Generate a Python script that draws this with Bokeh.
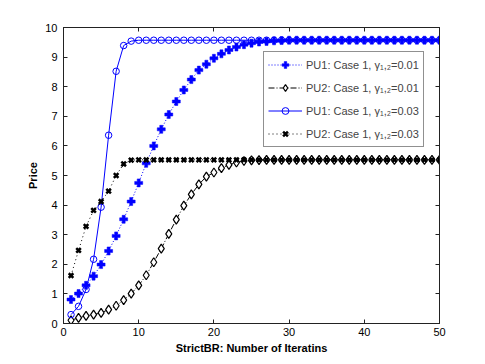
from bokeh.plotting import figure
from bokeh.models import LinearAxis, Legend, LegendItem, FixedTicker, Range1d
from bokeh.embed import file_html
from bokeh.resources import INLINE

iters = list(range(1, 51))

pu1_g001 = [0.81, 1.01, 1.29, 1.60, 1.99, 2.45, 2.96, 3.52, 4.12, 4.75,
            5.41, 6.00, 6.56, 7.06, 7.50, 7.89, 8.24, 8.56, 8.76, 8.96,
            9.11, 9.24, 9.34, 9.42, 9.47, 9.51, 9.53, 9.55, 9.56, 9.57,
            9.57, 9.57, 9.57, 9.57, 9.57, 9.57, 9.57, 9.57, 9.57, 9.57,
            9.57, 9.57, 9.57, 9.57, 9.57, 9.57, 9.57, 9.57, 9.57, 9.57]

pu2_g001 = [0.11, 0.19, 0.26, 0.30, 0.36, 0.47, 0.60, 0.79, 1.01, 1.29,
            1.63, 2.07, 2.53, 3.03, 3.51, 3.98, 4.36, 4.70, 4.96, 5.10,
            5.25, 5.36, 5.44, 5.49, 5.51, 5.52, 5.53, 5.53, 5.53, 5.53,
            5.53, 5.53, 5.53, 5.53, 5.53, 5.53, 5.53, 5.53, 5.53, 5.53,
            5.53, 5.53, 5.53, 5.53, 5.53, 5.53, 5.53, 5.53, 5.53, 5.53]

pu1_g003 = [0.30, 0.58, 1.15, 2.17, 3.93, 6.36, 8.52, 9.39, 9.54, 9.57,
            9.57, 9.57, 9.57, 9.57, 9.57, 9.57, 9.57, 9.57, 9.57, 9.57,
            9.57, 9.57, 9.57, 9.57, 9.57, 9.57, 9.57, 9.57, 9.57, 9.57,
            9.57, 9.57, 9.57, 9.57, 9.57, 9.57, 9.57, 9.57, 9.57, 9.57,
            9.57, 9.57, 9.57, 9.57, 9.57, 9.57, 9.57, 9.57, 9.57, 9.57]

pu2_g003 = [1.62, 2.47, 3.28, 3.82, 4.12, 4.47, 5.00, 5.39, 5.52, 5.53,
            5.53, 5.53, 5.53, 5.53, 5.53, 5.53, 5.53, 5.53, 5.53, 5.53,
            5.53, 5.53, 5.53, 5.53, 5.53, 5.53, 5.53, 5.53, 5.53, 5.53,
            5.53, 5.53, 5.53, 5.53, 5.53, 5.53, 5.53, 5.53, 5.53, 5.53,
            5.53, 5.53, 5.53, 5.53, 5.53, 5.53, 5.53, 5.53, 5.53, 5.53]

x_ticks = [0, 10, 20, 30, 40, 50]
y_ticks = [0, 1, 2, 3, 4, 5, 6, 7, 8, 9, 10]
labels = ["PU1: Case 1, γ₁,₂=0.01", "PU2: Case 1, γ₁,₂=0.01",
          "PU1: Case 1, γ₁,₂=0.03", "PU2: Case 1, γ₁,₂=0.03"]

FONT = "Liberation Sans"
BLUE = "#0000ff"
DARK = "#222222"

p = figure(frame_width=376, frame_height=296, output_backend="svg",
           toolbar_location=None,
           x_range=Range1d(0, 50), y_range=Range1d(0, 10),
           min_border_left=63, min_border_right=30, min_border_top=27,
           min_border_bottom=38)
p.grid.visible = False
p.outline_line_color = DARK
p.outline_line_width = 1
p.background_fill_color = "white"
p.border_fill_color = "white"

# series
l1 = p.line(iters, pu1_g001, color=BLUE, line_width=1, line_dash="1 2")
m1 = p.scatter(iters, pu1_g001, marker="plus", size=8, fill_color=BLUE,
               line_color=BLUE, line_width=0.5)
l2 = p.line(iters, pu2_g001, color="black", line_width=1, line_dash="6 2 1 2")
m2 = p.scatter(iters, pu2_g001, marker="diamond", size=9, fill_color="white",
               line_color="black", line_width=1.2)
l3 = p.line(iters, pu1_g003, color=BLUE, line_width=1)
m3 = p.scatter(iters, pu1_g003, marker="circle", size=6.5, fill_color=None,
               line_color=BLUE, line_width=1)
l4 = p.line(iters, pu2_g003, color="black", line_width=1, line_dash="1 3")
m4 = p.scatter(iters, pu2_g003, marker="x", size=6.5, line_color="black",
               line_width=2.5)


def style_axis(ax, show_labels=True):
    ax.axis_line_color = DARK
    ax.major_tick_in = 4
    ax.major_tick_out = 0
    ax.minor_tick_line_color = None
    ax.major_tick_line_color = DARK
    ax.major_label_text_font = FONT
    ax.major_label_text_font_size = "11px"
    ax.major_label_text_color = "black"
    ax.axis_label_text_font = FONT
    ax.axis_label_text_font_size = "11px"
    ax.axis_label_text_font_style = "bold"
    ax.axis_label_text_color = "black"
    if not show_labels:
        ax.major_label_text_font_size = "1px"
        ax.major_label_text_color = None
        ax.major_label_standoff = 0


p.xaxis.ticker = FixedTicker(ticks=x_ticks)
p.yaxis.ticker = FixedTicker(ticks=y_ticks)
style_axis(p.xaxis[0])
style_axis(p.yaxis[0])
p.xaxis.axis_label = "StrictBR: Number of Iteratins"
p.yaxis.axis_label = "Price"
p.xaxis.major_label_standoff = 4
p.xaxis.axis_label_standoff = 3
p.yaxis.major_label_standoff = 6
p.yaxis.axis_label_standoff = 3

top = LinearAxis(ticker=FixedTicker(ticks=x_ticks))
right = LinearAxis(ticker=FixedTicker(ticks=y_ticks))
style_axis(top, False)
style_axis(right, False)
p.add_layout(top, "above")
p.add_layout(right, "right")

legend = Legend(items=[
    LegendItem(label=labels[0], renderers=[l1, m1]),
    LegendItem(label=labels[1], renderers=[l2, m2]),
    LegendItem(label=labels[2], renderers=[l3, m3]),
    LegendItem(label=labels[3], renderers=[l4, m4]),
], location=(200, 176))
legend.label_text_font = FONT
legend.label_text_font_size = "11px"
legend.glyph_width = 34
legend.glyph_height = 17
legend.label_height = 17
legend.spacing = 6
legend.padding = 4
legend.margin = 0
legend.label_standoff = 4
legend.border_line_color = DARK
legend.border_line_width = 1
legend.background_fill_alpha = 1
p.add_layout(legend, "center")

open("out.html", "w").write(file_html(p, INLINE))
